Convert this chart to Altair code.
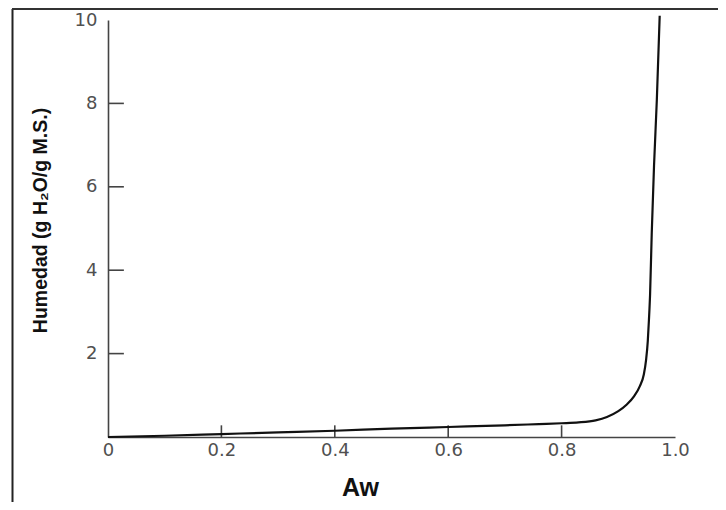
import altair as alt
import pandas as pd

# Sorption isotherm
aw = [0.0, 0.1, 0.2, 0.3, 0.4, 0.5, 0.6, 0.7, 0.76, 0.8, 0.83, 0.86, 0.88, 0.9, 0.915,
      0.928, 0.938, 0.945, 0.949, 0.952, 0.954, 0.956, 0.959, 0.963, 0.968, 0.973]
humedad = [0.0, 0.03, 0.07, 0.11, 0.15, 0.2, 0.24, 0.28, 0.31, 0.33, 0.35, 0.4, 0.48, 0.62, 0.78,
           0.98, 1.22, 1.5, 1.85, 2.3, 2.8, 3.4, 4.9, 6.5, 8.1, 10.1]

x_ticks = [0.0, 0.2, 0.4, 0.6, 0.8, 1.0]
x_tick_marks = [0.2, 0.4, 0.6, 0.8]
y_ticks = [2, 4, 6, 8, 10]
y_tick_marks = [2, 4, 6, 8]

curve_df = pd.DataFrame({"aw": aw, "h": humedad})
xt_df = pd.DataFrame({"x": x_tick_marks, "y0": [0.0] * len(x_tick_marks), "y1": [0.28] * len(x_tick_marks)})
yt_df = pd.DataFrame({"y": y_tick_marks, "x0": [0.0] * len(y_tick_marks), "x1": [0.028] * len(y_tick_marks)})

xscale = alt.Scale(domain=[0, 1.0], nice=False, zero=False)
yscale = alt.Scale(domain=[0, 10], nice=False, zero=False)

label_font = "DejaVu Sans"
label_color = "#505050"
axis_color = "#444444"

x_axis = alt.Axis(
    values=x_ticks, labelExpr="datum.value == 0 ? '0' : format(datum.value, '.1f')",
    ticks=False, tickSize=0, labelPadding=4, labelFont=label_font, labelFontSize=18,
    labelColor=label_color, grid=False, domainColor=axis_color, domainWidth=1.6,
    title="Aw", titleFont="Liberation Sans", titleFontWeight="bold", titleFontSize=25,
    titleColor="#111111", titleX=252, titleY=58, titleBaseline="alphabetic", titleAnchor="middle",
    labelFlush=False,
)
y_axis = alt.Axis(
    values=y_ticks, ticks=False, tickSize=0, labelPadding=11, labelFont=label_font,
    labelFontSize=18, labelColor=label_color, grid=False, domainColor=axis_color, domainWidth=1.6,
    title="Humedad (g H₂O/g M.S.)", titleFont="Liberation Sans", titleFontWeight="bold",
    titleFontSize=19.5, titleColor="#111111", titleAngle=270, titleX=-62, titleY=200,
    titleBaseline="alphabetic", titleAlign="center", labelFlush=False,
)

curve = alt.Chart(curve_df).mark_line(color="#111111", strokeWidth=2.2, interpolate="monotone").encode(
    x=alt.X("aw:Q", scale=xscale, axis=x_axis),
    y=alt.Y("h:Q", scale=yscale, axis=y_axis),
)

xticks = alt.Chart(xt_df).mark_rule(color=axis_color, strokeWidth=1.6).encode(
    x=alt.X("x:Q", scale=xscale), y=alt.Y("y0:Q", scale=yscale), y2="y1:Q"
)
yticks = alt.Chart(yt_df).mark_rule(color=axis_color, strokeWidth=1.6).encode(
    y=alt.Y("y:Q", scale=yscale), x=alt.X("x0:Q", scale=xscale), x2="x1:Q"
)

one = alt.Data(values=[{"a": 1}])
border_left = alt.Chart(one).mark_rule(color="#222222", strokeWidth=2).encode(
    x=alt.value(-95.5), y=alt.value(-11), y2=alt.value(482)
)
border_top = alt.Chart(one).mark_rule(color="#333333", strokeWidth=2).encode(
    x=alt.value(-96), x2=alt.value(612), y=alt.value(-11)
)

chart = alt.layer(border_left, border_top, xticks, yticks, curve).properties(
    width=567, height=417,
    background="white",
    autosize=alt.AutoSizeParams(type="none"),
    padding={"left": 100, "top": 12, "right": 43, "bottom": 65},
).configure_view(stroke=None, strokeWidth=0)

chart.save("out.html", embed_options={"renderer": "svg", "actions": False})
